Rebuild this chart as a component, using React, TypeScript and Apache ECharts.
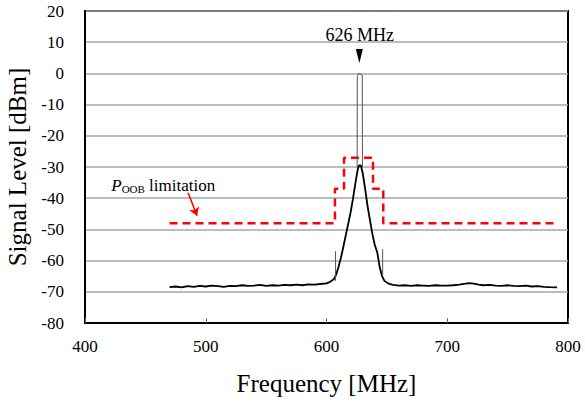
import React, { useEffect, useRef } from "react";
import * as echarts from "echarts";

// Measured spectrum trace (MHz, dBm)
const traceFreq = [
  470, 475, 480, 485, 490, 495, 500, 505, 510, 515, 520, 525, 530, 535, 540, 545, 550, 555, 560, 565,
  570, 575, 580, 585, 590, 595, 600, 603, 606, 608, 610, 612, 614, 617, 620, 622, 624, 626, 627, 628.5,
  630, 632, 634, 636, 638, 640, 642, 644, 646, 648, 651, 655, 660, 665, 670, 675, 680, 685, 690, 695,
  700, 705, 710, 715, 718, 722, 726, 730, 735, 740, 745, 750, 755, 760, 765, 770, 775, 780, 785, 791,
];
const traceLevel = [
  -68.5, -68.3, -68.6, -68.2, -68.4, -68.1, -68.3, -68.0, -68.2, -68.4, -68.1, -68.2, -67.9, -68.1, -68.0, -67.8, -68.1, -67.9, -68.0, -67.8,
  -67.9, -67.7, -67.9, -67.6, -67.7, -67.5, -67.3, -66.8, -66.0, -64.5, -62.0, -59.0, -55.5, -50.0, -44.5, -40.0, -35.0, -30.5, -29.5, -29.5,
  -32.0, -37.0, -42.5, -47.0, -51.5, -55.0, -57.3, -62.0, -65.0, -66.5, -67.3, -67.8, -68.0, -67.9, -68.1, -67.9, -68.0, -68.1, -67.9, -68.0,
  -68.0, -67.9, -67.7, -67.4, -67.2, -67.4, -67.7, -67.9, -67.8, -68.0, -68.1, -67.9, -68.1, -68.2, -68.0, -68.3, -68.2, -68.4, -68.5, -68.6,
];

// Narrow carrier spike and small spurs
const carrierFreq = [625.4, 625.5, 626.5, 628.5, 629.6, 629.8];
const carrierLevel = [-30, -1, 0, -0.3, -0.5, -30];
const spurLeftFreq = [607.5, 607.5];
const spurLeftLevel = [-66.5, -57];
const spurRightFreq = [646.5, 646.5];
const spurRightLevel = [-65, -56.3];

// P_OOB limitation mask
const maskFreq = [470, 607, 607, 614.5, 614.5, 638.5, 638.5, 647, 647, 791];
const maskLevel = [-48, -48, -37, -37, -27, -27, -37, -37, -48, -48];

// Annotations
const peakLabel = "626 MHz";
const peakMarker = [627.2, 5.6];
const peakLabelPos = [627.5, 12.3];
const oobLabelPos = [464.8, -35.8];
const oobArrow = [[485.4, -38.3], [492.8, -45.6]];

const FONT = "Liberation Serif, Times New Roman, serif";

const zip = (a: number[], b: number[]) => a.map((v, i) => [v, b[i]]);

export default function App() {
  const ref = useRef<HTMLDivElement>(null);
  useEffect(() => {
    if (!ref.current) return;
    const chart = echarts.init(ref.current, undefined, { renderer: "svg" });
    const thin = { color: "#555", width: 1 };
    chart.setOption({
      animation: false,
      backgroundColor: "#fff",
      textStyle: { fontFamily: FONT },
      grid: {
        left: 85,
        right: 17,
        top: 11,
        bottom: 78,
        containLabel: false,
        outerBoundsMode: "none",
        show: true,
        borderColor: "#000",
        borderWidth: 2,
      },
      xAxis: {
        type: "value",
        min: 400,
        max: 800,
        interval: 100,
        name: "Frequency [MHz]",
        nameLocation: "middle",
        nameGap: 48,
        nameTextStyle: { fontFamily: FONT, fontSize: 25, color: "#000" },
        axisLine: { onZero: false, lineStyle: { color: "#000", width: 2 } },
        axisTick: { inside: true, length: 5, lineStyle: { color: "#666", width: 1 } },
        axisLabel: { fontFamily: FONT, fontSize: 17, color: "#000", margin: 15 },
        splitLine: { show: false },
      },
      yAxis: {
        type: "value",
        min: -80,
        max: 20,
        interval: 10,
        name: "Signal Level [dBm]",
        nameLocation: "middle",
        nameGap: 53,
        nameTextStyle: { fontFamily: FONT, fontSize: 25, color: "#000" },
        axisLine: { onZero: false, lineStyle: { color: "#000", width: 2 } },
        axisTick: { show: false },
        axisLabel: { fontFamily: FONT, fontSize: 17, color: "#000", margin: 21 },
        splitLine: { lineStyle: { color: "#a6a6a6", width: 1.5 } },
      },
      series: [
        {
          type: "line",
          data: zip(maskFreq, maskLevel),
          symbol: "none",
          lineStyle: { color: "#ff0000", width: 2.5, type: [8, 5] },
          z: 3,
          markLine: {
            silent: true,
            symbol: ["none", "arrow"],
            symbolSize: 8,
            label: { show: false },
            lineStyle: { color: "#ff0000", width: 1.5, type: "solid" },
            data: [[{ coord: oobArrow[0] }, { coord: oobArrow[1] }]],
          },
          markPoint: {
            silent: true,
            symbol: "rect",
            symbolSize: 0,
            data: [
              {
                coord: oobLabelPos,
                label: {
                  show: true,
                  position: "inside",
                  formatter: "{p|P}{s|OOB}{n| limitation}",
                  rich: {
                    p: { fontFamily: FONT, fontSize: 17, fontStyle: "italic", color: "#000" },
                    s: { fontFamily: FONT, fontSize: 11, color: "#000", padding: [7, 0, 0, 0] },
                    n: { fontFamily: FONT, fontSize: 17, color: "#000" },
                  },
                },
              },
            ],
          },
        },
        {
          type: "line",
          data: zip(traceFreq, traceLevel),
          symbol: "none",
          lineStyle: { color: "#000", width: 1.8 },
          z: 4,
        },
        {
          type: "line",
          data: zip(carrierFreq, carrierLevel),
          symbol: "none",
          lineStyle: thin,
          z: 4,
          markPoint: {
            silent: true,
            data: [
              {
                coord: peakMarker,
                symbol: "triangle",
                symbolRotate: 180,
                symbolSize: [7, 14],
                itemStyle: { color: "#000" },
                label: { show: false },
              },
              {
                coord: peakLabelPos,
                symbol: "rect",
                symbolSize: 0,
                label: {
                  show: true,
                  position: "inside",
                  formatter: peakLabel,
                  fontFamily: FONT,
                  fontSize: 18,
                  color: "#000",
                },
              },
            ],
          },
        },
        {
          type: "line",
          data: zip(spurLeftFreq, spurLeftLevel),
          symbol: "none",
          lineStyle: thin,
          z: 4,
        },
        {
          type: "line",
          data: zip(spurRightFreq, spurRightLevel),
          symbol: "none",
          lineStyle: thin,
          z: 4,
        },
      ],
    });
    return () => chart.dispose();
  }, []);
  return (
    <div
      ref={ref}
      style={{ position: "absolute", left: 0, top: 0, width: 585, height: 401 }}
    />
  );
}
